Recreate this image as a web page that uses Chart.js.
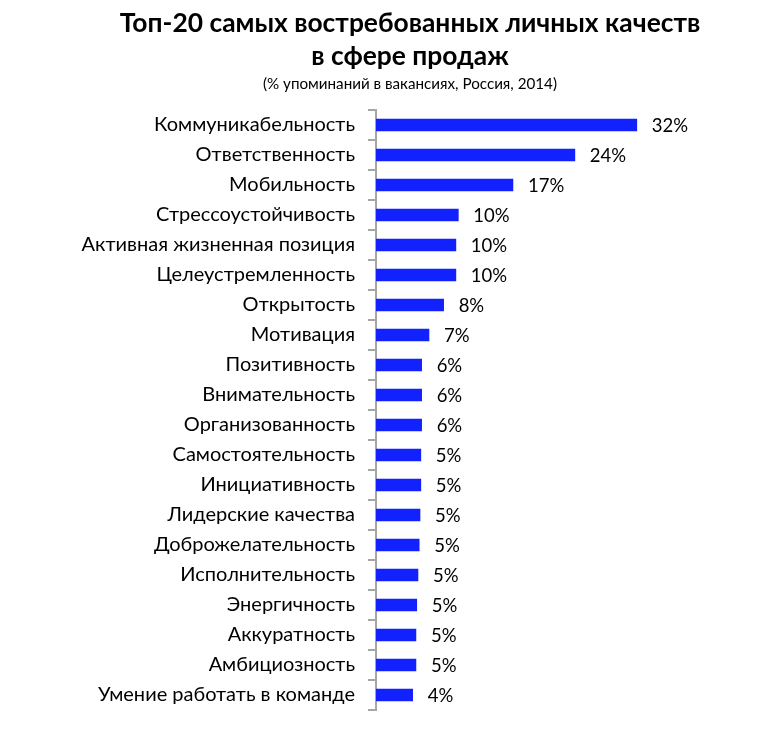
<!DOCTYPE html>
<html>
<head>
<meta charset="utf-8">
<script src="https://cdn.jsdelivr.net/npm/chart.js@4.4.1/dist/chart.umd.min.js"></script>
<style>
html,body{margin:0;padding:0;background:#fff;}
#wrap{width:771px;height:735px;position:relative;font-family:Lato,'Noto Sans',sans-serif;color:#000;}
#c{position:absolute;left:0;top:0;}
.t{position:absolute;left:0;width:820px;text-align:center;white-space:nowrap;}
#t1,#t2{font-weight:bold;font-size:26.4px;line-height:32px;}
#t1{top:6px;}
#t2{top:39px;}
#st{top:74px;font-size:15.2px;line-height:18px;}
</style>
</head>
<body>
<div id="wrap">
<canvas id="c" width="771" height="735"></canvas>
<div class="t" id="t1"></div>
<div class="t" id="t2"></div>
<div class="t" id="st"></div>
</div>
<script>
const categories = [
  "Коммуникабельность",
  "Ответственность",
  "Мобильность",
  "Стрессоустойчивость",
  "Активная жизненная позиция",
  "Целеустремленность",
  "Открытость",
  "Мотивация",
  "Позитивность",
  "Внимательность",
  "Организованность",
  "Самостоятельность",
  "Инициативность",
  "Лидерские качества",
  "Доброжелательность",
  "Исполнительность",
  "Энергичность",
  "Аккуратность",
  "Амбициозность",
  "Умение работать в команде"
];
const values = [32.0, 24.4, 16.8, 10.1, 9.8, 9.8, 8.3, 6.5, 5.6, 5.6, 5.6, 5.5, 5.5, 5.4, 5.3, 5.15, 5.0, 4.9, 4.9, 4.5];
const valueLabels = ["32%","24%","17%","10%","10%","10%","8%","7%","6%","6%","6%","5%","5%","5%","5%","5%","5%","5%","5%","4%"];
const titleLines = ["Топ-20 самых востребованных личных качеств", "в сфере продаж"];
const subtitleText = "(% упоминаний в вакансиях, Россия, 2014)";

document.getElementById('t1').textContent = titleLines[0];
document.getElementById('t2').textContent = titleLines[1];
document.getElementById('st').textContent = subtitleText;

const FONT = "Lato, 'Noto Sans', sans-serif";

const valueLabelPlugin = {
  id: 'valueLabels',
  afterDatasetsDraw(chart) {
    const ctx = chart.ctx;
    const meta = chart.getDatasetMeta(0);
    ctx.save();
    ctx.font = "18.5px " + FONT;
    ctx.fillStyle = "#000";
    ctx.textAlign = "left";
    ctx.textBaseline = "middle";
    meta.data.forEach((bar, i) => {
      ctx.fillText(valueLabels[i], bar.x + 15, bar.y + 1);
    });
    ctx.restore();
  }
};

new Chart(document.getElementById('c'), {
  type: 'bar',
  data: {
    labels: categories,
    datasets: [{
      data: values,
      backgroundColor: '#1122FF',
      borderWidth: 0,
      barThickness: 12
    }]
  },
  options: {
    indexAxis: 'y',
    responsive: false,
    animation: false,
    devicePixelRatio: 1,
    layout: { padding: { left: 0, right: 69, top: 110, bottom: 21 } },
    plugins: {
      legend: { display: false },
      tooltip: { enabled: false },
      title: { display: false }
    },
    scales: {
      x: {
        display: false,
        min: 0,
        max: 40
      },
      y: {
        afterFit(scale) { scale.width = 376; },
        border: { display: true, color: '#a6a6a6', width: 2 },
        grid: {
          display: true,
          drawOnChartArea: false,
          drawTicks: true,
          tickLength: 8,
          color: '#a6a6a6',
          lineWidth: 2,
          offset: true
        },
        ticks: {
          color: '#000',
          padding: 13,
          font: { family: FONT, size: 20 }
        }
      }
    }
  },
  plugins: [valueLabelPlugin]
});
</script>
</body>
</html>
